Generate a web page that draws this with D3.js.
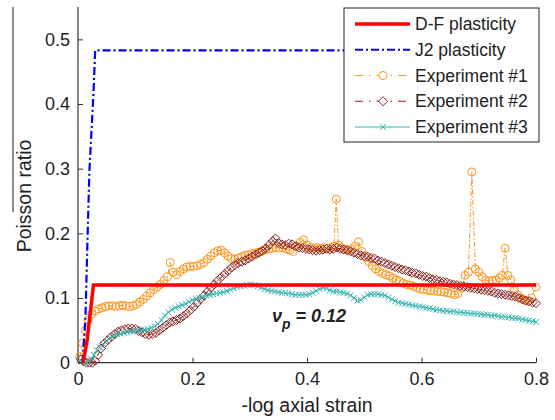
<!DOCTYPE html>
<html>
<head>
<meta charset="utf-8">
<script src="https://cdn.jsdelivr.net/npm/d3@7"></script>
<style>
  body { margin: 0; background: #fff; }
  text { font-family: "Liberation Sans", Arial, sans-serif; fill: #222; }
</style>
</head>
<body>
<svg id="chart" width="555" height="420"></svg>
<script>
// model curves
const dfPlasticity = [[0.009, 0], [0.016, 0.035], [0.027, 0.12], [0.8, 0.12]];
const j2Plasticity = [[0.008, 0], [0.013, 0.07], [0.018, 0.236], [0.02, 0.298], [0.027, 0.417], [0.03, 0.483], [0.8, 0.483]];

// experiment #1 (orange circles)
const exp1 = [[0.003,0.009],[0.008,0.03],[0.013,0.05],[0.018,0.066],[0.024,0.075],[0.03,0.08],[0.036,0.083],[0.042,0.085],[0.048,0.087],[0.054,0.088],[0.06,0.088],[0.066,0.087],[0.072,0.088],[0.078,0.089],[0.084,0.088],[0.09,0.087],[0.096,0.088],[0.102,0.09],[0.108,0.094],[0.114,0.098],[0.12,0.103],[0.126,0.108],[0.132,0.113],[0.138,0.117],[0.144,0.121],[0.15,0.127],[0.156,0.133],[0.161,0.155],[0.166,0.14],[0.172,0.136],[0.178,0.141],[0.184,0.145],[0.19,0.148],[0.196,0.149],[0.202,0.149],[0.208,0.15],[0.214,0.152],[0.22,0.155],[0.226,0.16],[0.232,0.165],[0.238,0.17],[0.244,0.173],[0.25,0.174],[0.256,0.17],[0.262,0.165],[0.268,0.161],[0.274,0.16],[0.28,0.162],[0.286,0.164],[0.292,0.166],[0.298,0.167],[0.304,0.168],[0.31,0.17],[0.316,0.171],[0.322,0.173],[0.328,0.175],[0.334,0.176],[0.34,0.177],[0.346,0.178],[0.352,0.177],[0.358,0.178],[0.364,0.176],[0.37,0.174],[0.376,0.172],[0.382,0.18],[0.388,0.186],[0.394,0.19],[0.4,0.182],[0.406,0.178],[0.412,0.177],[0.418,0.178],[0.424,0.177],[0.43,0.178],[0.436,0.177],[0.442,0.178],[0.447,0.18],[0.451,0.253],[0.455,0.182],[0.46,0.178],[0.466,0.175],[0.472,0.174],[0.478,0.176],[0.484,0.18],[0.49,0.187],[0.496,0.172],[0.502,0.163],[0.508,0.156],[0.514,0.15],[0.52,0.145],[0.526,0.141],[0.532,0.138],[0.538,0.136],[0.544,0.134],[0.55,0.131],[0.556,0.128],[0.562,0.126],[0.568,0.123],[0.574,0.121],[0.58,0.12],[0.586,0.118],[0.592,0.116],[0.598,0.114],[0.604,0.113],[0.61,0.112],[0.616,0.111],[0.622,0.111],[0.628,0.11],[0.634,0.11],[0.64,0.109],[0.646,0.108],[0.652,0.107],[0.658,0.105],[0.664,0.107],[0.67,0.115],[0.676,0.135],[0.682,0.14],[0.688,0.295],[0.694,0.145],[0.7,0.14],[0.706,0.133],[0.712,0.128],[0.718,0.126],[0.724,0.127],[0.73,0.128],[0.736,0.131],[0.741,0.135],[0.746,0.177],[0.751,0.135],[0.756,0.128],[0.762,0.112],[0.768,0.105],[0.774,0.1],[0.78,0.097],[0.786,0.095],[0.792,0.1],[0.8,0.117]];

// experiment #2 (dark red diamonds)
const exp2 = [[0.005,0.005],[0.01,0.002],[0.015,0.0],[0.02,0.0],[0.025,0.0],[0.03,0.003],[0.035,0.012],[0.04,0.022],[0.046,0.03],[0.052,0.035],[0.058,0.04],[0.064,0.044],[0.07,0.048],[0.076,0.05],[0.082,0.052],[0.088,0.053],[0.094,0.053],[0.1,0.052],[0.106,0.049],[0.112,0.047],[0.118,0.044],[0.124,0.043],[0.13,0.044],[0.136,0.046],[0.142,0.05],[0.148,0.054],[0.154,0.058],[0.16,0.062],[0.166,0.064],[0.172,0.066],[0.178,0.068],[0.184,0.072],[0.19,0.076],[0.196,0.081],[0.202,0.086],[0.208,0.092],[0.214,0.098],[0.22,0.104],[0.226,0.11],[0.232,0.116],[0.238,0.121],[0.244,0.127],[0.25,0.132],[0.256,0.137],[0.262,0.142],[0.268,0.147],[0.274,0.151],[0.28,0.154],[0.286,0.156],[0.292,0.158],[0.298,0.161],[0.304,0.164],[0.31,0.167],[0.316,0.17],[0.322,0.173],[0.328,0.177],[0.334,0.182],[0.34,0.188],[0.345,0.192],[0.35,0.185],[0.356,0.183],[0.362,0.182],[0.368,0.184],[0.374,0.183],[0.38,0.18],[0.386,0.178],[0.392,0.177],[0.398,0.176],[0.404,0.175],[0.41,0.174],[0.416,0.173],[0.422,0.174],[0.428,0.175],[0.434,0.176],[0.44,0.175],[0.446,0.176],[0.452,0.178],[0.458,0.176],[0.464,0.175],[0.47,0.174],[0.476,0.172],[0.482,0.17],[0.488,0.168],[0.494,0.166],[0.5,0.165],[0.506,0.164],[0.512,0.162],[0.518,0.161],[0.524,0.158],[0.53,0.156],[0.536,0.154],[0.542,0.152],[0.548,0.15],[0.554,0.148],[0.56,0.146],[0.566,0.144],[0.572,0.143],[0.578,0.141],[0.584,0.139],[0.59,0.138],[0.596,0.136],[0.602,0.134],[0.608,0.133],[0.614,0.131],[0.62,0.129],[0.626,0.128],[0.632,0.126],[0.638,0.125],[0.644,0.124],[0.65,0.122],[0.656,0.121],[0.662,0.12],[0.668,0.119],[0.674,0.118],[0.68,0.117],[0.686,0.116],[0.692,0.115],[0.698,0.114],[0.704,0.113],[0.71,0.112],[0.716,0.111],[0.722,0.11],[0.728,0.108],[0.734,0.107],[0.74,0.106],[0.746,0.105],[0.752,0.104],[0.758,0.103],[0.764,0.102],[0.77,0.1],[0.776,0.098],[0.782,0.096],[0.788,0.095],[0.794,0.093],[0.8,0.092]];

// experiment #3 (teal crosses)
const exp3 = [[0.003,0.004],[0.008,0.002],[0.013,0.0],[0.018,0.002],[0.023,0.006],[0.028,0.012],[0.033,0.019],[0.038,0.024],[0.044,0.029],[0.05,0.034],[0.056,0.038],[0.062,0.041],[0.068,0.044],[0.074,0.045],[0.08,0.046],[0.086,0.047],[0.092,0.048],[0.098,0.049],[0.104,0.05],[0.11,0.05],[0.116,0.051],[0.122,0.052],[0.128,0.054],[0.134,0.056],[0.14,0.06],[0.146,0.066],[0.152,0.073],[0.158,0.078],[0.164,0.082],[0.17,0.085],[0.176,0.087],[0.182,0.089],[0.188,0.091],[0.194,0.094],[0.2,0.097],[0.206,0.099],[0.212,0.1],[0.218,0.102],[0.224,0.104],[0.23,0.105],[0.236,0.106],[0.242,0.107],[0.248,0.108],[0.254,0.109],[0.26,0.111],[0.266,0.113],[0.272,0.115],[0.278,0.117],[0.284,0.118],[0.29,0.119],[0.296,0.12],[0.302,0.121],[0.308,0.12],[0.314,0.118],[0.32,0.116],[0.326,0.114],[0.332,0.112],[0.338,0.111],[0.344,0.11],[0.35,0.109],[0.356,0.108],[0.362,0.108],[0.368,0.107],[0.374,0.106],[0.38,0.105],[0.386,0.105],[0.392,0.105],[0.398,0.105],[0.404,0.106],[0.41,0.108],[0.416,0.111],[0.422,0.114],[0.428,0.116],[0.434,0.115],[0.44,0.112],[0.446,0.11],[0.452,0.11],[0.458,0.109],[0.464,0.108],[0.47,0.107],[0.476,0.104],[0.482,0.1],[0.488,0.096],[0.494,0.097],[0.5,0.101],[0.506,0.105],[0.512,0.106],[0.518,0.106],[0.524,0.106],[0.53,0.105],[0.536,0.104],[0.542,0.101],[0.548,0.098],[0.554,0.095],[0.56,0.093],[0.566,0.092],[0.572,0.091],[0.578,0.09],[0.584,0.089],[0.59,0.088],[0.596,0.087],[0.602,0.086],[0.608,0.085],[0.614,0.084],[0.62,0.083],[0.626,0.082],[0.632,0.081],[0.638,0.08],[0.644,0.08],[0.65,0.079],[0.656,0.079],[0.662,0.078],[0.668,0.078],[0.674,0.077],[0.68,0.077],[0.686,0.076],[0.692,0.076],[0.698,0.075],[0.704,0.075],[0.71,0.074],[0.716,0.074],[0.722,0.073],[0.728,0.073],[0.734,0.072],[0.74,0.071],[0.746,0.071],[0.752,0.07],[0.758,0.069],[0.764,0.069],[0.77,0.068],[0.776,0.067],[0.782,0.066],[0.788,0.065],[0.794,0.064],[0.8,0.063]];

const xTicks = [0, 0.2, 0.4, 0.6, 0.8];
const yTicks = [0, 0.1, 0.2, 0.3, 0.4, 0.5];
const legendLabels = ["D-F plasticity", "J2 plasticity", "Experiment #1", "Experiment #2", "Experiment #3"];

const svg = d3.select("#chart");

// plot area
const x = d3.scaleLinear().domain([0, 0.8]).range([78, 536]);
const y = d3.scaleLinear().domain([0, 0.55]).range([362.7, 7]);

const orange = "#ff9419", maroon = "#8c1f1f", teal = "#33b5b0";

// marker shapes
const circle = (px, py) => `M${px + 4},${py}A4,4 0 1,1 ${px - 4},${py}A4,4 0 1,1 ${px + 4},${py}`;
const diamond = (px, py) => `M${px},${py - 4.5}L${px + 4.5},${py}L${px},${py + 4.5}L${px - 4.5},${py}Z`;
const cross = (px, py) => `M${px - 3},${py - 3}L${px + 3},${py + 3}M${px - 3},${py + 3}L${px + 3},${py - 3}`;

const line = d3.line().x(d => x(d[0])).y(d => y(d[1]));

// axes (ticks point inward, no box)
const xAxis = svg.append("g")
  .attr("transform", `translate(0,${y(0)})`)
  .call(d3.axisBottom(x).tickValues(xTicks).tickSize(-5).tickPadding(10).tickFormat(d3.format("")));
const yAxis = svg.append("g")
  .attr("transform", `translate(${x(0)},0)`)
  .call(d3.axisLeft(y).tickValues(yTicks).tickSize(-5).tickPadding(8).tickFormat(d3.format("")));
[xAxis, yAxis].forEach(a => {
  a.select(".domain").attr("stroke", "#333").attr("stroke-width", 1.2);
  a.selectAll(".tick line").attr("stroke", "#333");
  a.selectAll(".tick text").style("font-size", "18px").attr("fill", "#222");
});
// no outer tick caps: redraw domains as plain lines
xAxis.select(".domain").attr("d", `M${x(0)},0H${x(0.8)}`);
yAxis.select(".domain").attr("d", `M0,${y(0)}V${y(0.55)}`);

// experiment series
const series = [
  { data: exp1, color: orange, dash: "5,2,1.5,2", marker: circle },
  { data: exp2, color: maroon, dash: "5,2,1.5,2", marker: diamond },
  { data: exp3, color: teal, dash: null, marker: cross }
];
series.forEach(s => {
  svg.append("path").datum(s.data)
    .attr("d", line).attr("fill", "none")
    .attr("stroke", s.color).attr("stroke-width", 1)
    .attr("stroke-dasharray", s.dash);
  svg.append("path")
    .attr("d", s.data.map(d => s.marker(x(d[0]), y(d[1]))).join(""))
    .attr("fill", "none").attr("stroke", s.color).attr("stroke-width", 1);
});

// model curves
svg.append("path").datum(j2Plasticity)
  .attr("d", line).attr("fill", "none")
  .attr("stroke", "#0000ff").attr("stroke-width", 2.2)
  .attr("stroke-dasharray", "8,3,2,3");
svg.append("path").datum(dfPlasticity)
  .attr("d", line).attr("fill", "none")
  .attr("stroke", "#ff0000").attr("stroke-width", 3.5);

// annotation
const note = svg.append("text")
  .attr("x", 272).attr("y", 322)
  .style("font-size", "18px").style("font-weight", "bold").style("font-style", "italic")
  .attr("fill", "#111");
note.append("tspan").text("ν");
note.append("tspan").attr("dy", 7).style("font-size", "14px").text("p");
note.append("tspan").attr("dy", -7).text(" = 0.12");

// axis labels
svg.append("text")
  .attr("x", 307).attr("y", 412).attr("text-anchor", "middle")
  .style("font-size", "19.5px").text("-log axial strain");
svg.append("text")
  .attr("transform", "translate(31,196) rotate(-90)").attr("text-anchor", "middle")
  .style("font-size", "19.5px").text("Poisson ratio");
svg.append("line")
  .attr("x1", 13).attr("x2", 13).attr("y1", 7).attr("y2", 212)
  .attr("stroke", "#666").attr("stroke-width", 1.5);

// legend
const legend = svg.append("g");
legend.append("rect")
  .attr("x", 344).attr("y", 8).attr("width", 195).attr("height", 134)
  .attr("fill", "#fff").attr("stroke", "#222").attr("stroke-width", 1);
const legendStyles = [
  { color: "#ff0000", width: 3.5, dash: null, marker: null },
  { color: "#0000ff", width: 2.2, dash: "8,3,2,3", marker: null },
  { color: orange, width: 1, dash: "8,6,1.5,6", marker: circle },
  { color: maroon, width: 1, dash: "8,6,1.5,6", marker: diamond },
  { color: teal, width: 1, dash: null, marker: cross }
];
const rowY = d3.scalePoint().domain(legendLabels).range([24, 127]);
legendLabels.forEach((label, i) => {
  const st = legendStyles[i], cy = rowY(label);
  legend.append("line")
    .attr("x1", 355).attr("x2", 410).attr("y1", cy).attr("y2", cy)
    .attr("stroke", st.color).attr("stroke-width", st.width)
    .attr("stroke-dasharray", st.dash);
  if (st.marker) {
    legend.append("path").attr("d", st.marker(383, cy))
      .attr("fill", "#fff").attr("stroke", st.color).attr("stroke-width", 1);
  }
  legend.append("text")
    .attr("x", 415).attr("y", cy + 6)
    .style("font-size", "17.5px").text(label);
});
</script>
</body>
</html>
